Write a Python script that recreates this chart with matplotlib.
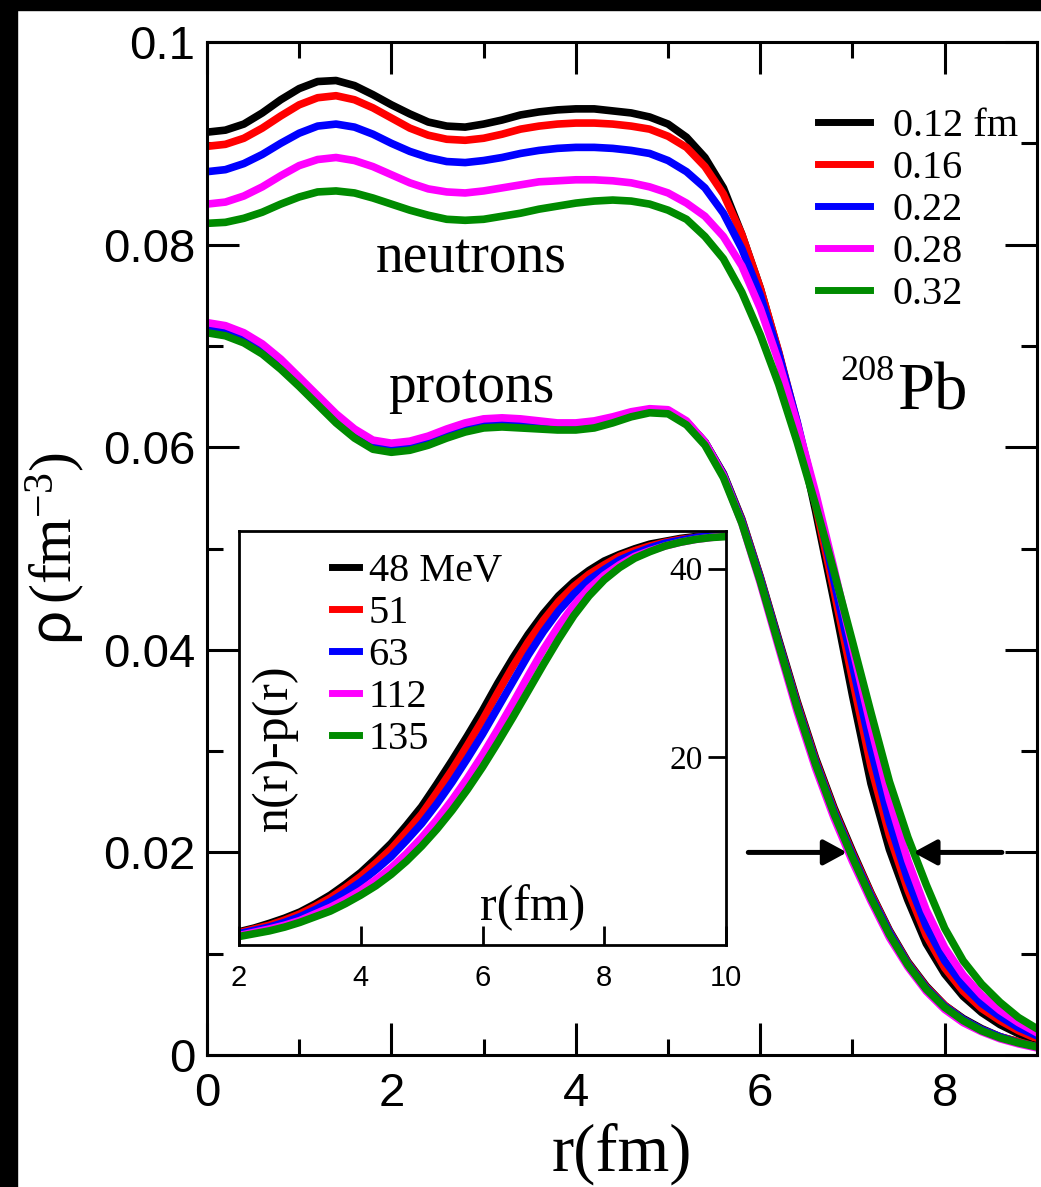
import matplotlib.pyplot as plt
from matplotlib.lines import Line2D
from matplotlib.patches import Rectangle

plt.rcParams['font.family'] = 'Liberation Sans'
plt.rcParams['mathtext.fontset'] = 'custom'
plt.rcParams['mathtext.rm'] = 'Liberation Serif'
plt.rcParams['mathtext.it'] = 'Liberation Serif:italic'
plt.rcParams['mathtext.sf'] = 'Liberation Sans'

# ---- data ----
r_main = [0.0, 0.2, 0.4, 0.6, 0.8, 1.0, 1.2, 1.4, 1.6, 1.8, 2.0, 2.2, 2.4, 2.6,
          2.8, 3.0, 3.2, 3.4, 3.6, 3.8, 4.0, 4.2, 4.4, 4.6, 4.8, 5.0, 5.2, 5.4,
          5.6, 5.8, 6.0, 6.2, 6.4, 6.6, 6.8, 7.0, 7.2, 7.4, 7.6, 7.8, 8.0, 8.2,
          8.4, 8.6, 8.8, 9.0]

# neutron densities (fm^-3)
n_black = [0.0911, 0.0913, 0.0919, 0.0930, 0.0943, 0.0954, 0.0961, 0.0962, 0.0957,
           0.0948, 0.0938, 0.0929, 0.0921, 0.0917, 0.0916, 0.0919, 0.0923, 0.0928,
           0.0931, 0.0933, 0.0934, 0.0934, 0.0932, 0.0930, 0.0926, 0.0919, 0.0906,
           0.0886, 0.0856, 0.0810, 0.0757, 0.0693, 0.0620, 0.0537, 0.0448, 0.0355,
           0.0268, 0.0203, 0.0153, 0.0110, 0.0080, 0.0058, 0.0042, 0.0030, 0.0021,
           0.0014]
n_red = [0.0897, 0.0899, 0.0905, 0.0915, 0.0927, 0.0938, 0.0945, 0.0947, 0.0943,
         0.0935, 0.0925, 0.0915, 0.0908, 0.0904, 0.0903, 0.0905, 0.0909, 0.0914,
         0.0917, 0.0919, 0.0920, 0.0920, 0.0919, 0.0917, 0.0914, 0.0907, 0.0896,
         0.0877, 0.0850, 0.0810, 0.0757, 0.0694, 0.0624, 0.0543, 0.0458, 0.0371,
         0.0285, 0.0217, 0.0163, 0.0118, 0.0086, 0.0063, 0.0046, 0.0034, 0.0024,
         0.0016]
n_blue = [0.0872, 0.0874, 0.0880, 0.0889, 0.0900, 0.0910, 0.0917, 0.0919, 0.0916,
          0.0909, 0.0900, 0.0892, 0.0886, 0.0882, 0.0881, 0.0883, 0.0886, 0.0890,
          0.0893, 0.0895, 0.0896, 0.0896, 0.0895, 0.0893, 0.0890, 0.0883, 0.0872,
          0.0856, 0.0831, 0.0796, 0.0750, 0.0692, 0.0625, 0.0550, 0.0468, 0.0385,
          0.0302, 0.0230, 0.0173, 0.0127, 0.0093, 0.0069, 0.0051, 0.0038, 0.0027,
          0.0019]
n_magenta = [0.0840, 0.0842, 0.0848, 0.0857, 0.0868, 0.0878, 0.0884, 0.0886, 0.0883,
             0.0877, 0.0869, 0.0861, 0.0855, 0.0852, 0.0851, 0.0853, 0.0856, 0.0859,
             0.0862, 0.0863, 0.0864, 0.0864, 0.0863, 0.0861, 0.0857, 0.0851, 0.0841,
             0.0828, 0.0808, 0.0779, 0.0737, 0.0684, 0.0623, 0.0555, 0.0480, 0.0402,
             0.0324, 0.0252, 0.0192, 0.0143, 0.0106, 0.0079, 0.0059, 0.0044, 0.0032,
             0.0022]
n_green = [0.0821, 0.0822, 0.0826, 0.0832, 0.0840, 0.0847, 0.0852, 0.0853, 0.0851,
           0.0846, 0.0840, 0.0834, 0.0829, 0.0825, 0.0824, 0.0825, 0.0828, 0.0831,
           0.0835, 0.0838, 0.0841, 0.0843, 0.0844, 0.0843, 0.0840, 0.0834, 0.0825,
           0.0808, 0.0786, 0.0753, 0.0711, 0.0662, 0.0605, 0.0543, 0.0477, 0.0408,
           0.0338, 0.0270, 0.0215, 0.0168, 0.0125, 0.0093, 0.0070, 0.0052, 0.0037,
           0.0026]

# proton densities (fm^-3)
p_black = [0.0718, 0.0715, 0.0708, 0.0697, 0.0682, 0.0665, 0.0647, 0.0629, 0.0614,
           0.0603, 0.0600, 0.0602, 0.0607, 0.0614, 0.0620, 0.0624, 0.0625, 0.0624,
           0.0622, 0.0621, 0.0621, 0.0623, 0.0628, 0.0633, 0.0637, 0.0636, 0.0625,
           0.0605, 0.0574, 0.0529, 0.0472, 0.0410, 0.0349, 0.0293, 0.0244, 0.0201,
           0.0160, 0.0123, 0.0092, 0.0068, 0.0049, 0.0036, 0.0026, 0.0018, 0.0013,
           0.0009]
p_red = [0.0718, 0.0715, 0.0708, 0.0697, 0.0682, 0.0665, 0.0647, 0.0629, 0.0614,
         0.0603, 0.0600, 0.0602, 0.0607, 0.0614, 0.0620, 0.0624, 0.0625, 0.0624,
         0.0622, 0.0621, 0.0621, 0.0623, 0.0628, 0.0633, 0.0637, 0.0636, 0.0625,
         0.0605, 0.0573, 0.0528, 0.0471, 0.0408, 0.0347, 0.0291, 0.0242, 0.0199,
         0.0159, 0.0122, 0.0091, 0.0067, 0.0049, 0.0035, 0.0025, 0.0018, 0.0013,
         0.0008]
p_blue = [0.0718, 0.0715, 0.0708, 0.0697, 0.0682, 0.0665, 0.0647, 0.0629, 0.0614,
          0.0603, 0.0600, 0.0602, 0.0607, 0.0614, 0.0620, 0.0624, 0.0625, 0.0624,
          0.0622, 0.0621, 0.0621, 0.0623, 0.0628, 0.0633, 0.0637, 0.0636, 0.0625,
          0.0605, 0.0573, 0.0527, 0.0470, 0.0407, 0.0345, 0.0289, 0.0240, 0.0197,
          0.0157, 0.0121, 0.0090, 0.0066, 0.0048, 0.0035, 0.0025, 0.0018, 0.0012,
          0.0008]
p_magenta = [0.0723, 0.0720, 0.0713, 0.0702, 0.0687, 0.0669, 0.0651, 0.0633, 0.0618,
             0.0607, 0.0604, 0.0606, 0.0611, 0.0618, 0.0624, 0.0628, 0.0629, 0.0628,
             0.0626, 0.0624, 0.0624, 0.0626, 0.0630, 0.0635, 0.0638, 0.0637, 0.0626,
             0.0605, 0.0572, 0.0525, 0.0466, 0.0402, 0.0339, 0.0283, 0.0234, 0.0191,
             0.0152, 0.0116, 0.0087, 0.0063, 0.0045, 0.0032, 0.0023, 0.0016, 0.0011,
             0.0007]
p_green = [0.0713, 0.0710, 0.0703, 0.0692, 0.0677, 0.0660, 0.0642, 0.0624, 0.0609,
           0.0598, 0.0595, 0.0597, 0.0602, 0.0609, 0.0615, 0.0619, 0.0620, 0.0619,
           0.0618, 0.0617, 0.0617, 0.0619, 0.0624, 0.0630, 0.0634, 0.0633, 0.0622,
           0.0602, 0.0570, 0.0525, 0.0468, 0.0405, 0.0343, 0.0287, 0.0238, 0.0195,
           0.0155, 0.0119, 0.0089, 0.0065, 0.0047, 0.0034, 0.0024, 0.0017, 0.0012,
           0.0008]

# inset: n(r)-p(r)
r_inset = [2.0, 2.25, 2.5, 2.75, 3.0, 3.25, 3.5, 3.75, 4.0, 4.25, 4.5, 4.75, 5.0,
           5.25, 5.5, 5.75, 6.0, 6.25, 6.5, 6.75, 7.0, 7.25, 7.5, 7.75, 8.0, 8.25,
           8.5, 8.75, 9.0, 9.25, 9.5, 9.75, 10.0]
d_black = [1.4, 1.8, 2.3, 2.85, 3.5, 4.35, 5.3, 6.45, 7.7, 9.2, 10.8, 12.7, 14.7,
           17.1, 19.6, 22.2, 24.9, 27.8, 30.5, 33.0, 35.2, 37.1, 38.6, 39.8, 40.8,
           41.5, 42.1, 42.6, 42.9, 43.2, 43.4, 43.5, 43.6]
d_red = [1.3, 1.7, 2.1, 2.65, 3.3, 4.1, 5.0, 6.1, 7.3, 8.7, 10.2, 12.0, 13.9,
         16.2, 18.6, 21.2, 23.9, 26.8, 29.6, 32.2, 34.5, 36.5, 38.1, 39.4, 40.4,
         41.3, 41.9, 42.4, 42.8, 43.1, 43.3, 43.5, 43.6]
d_blue = [1.2, 1.55, 1.9, 2.4, 3.0, 3.75, 4.6, 5.6, 6.7, 8.0, 9.4, 11.1, 12.9,
          15.0, 17.3, 19.8, 22.4, 25.2, 28.0, 30.8, 33.3, 35.5, 37.3, 38.8, 39.9,
          40.9, 41.6, 42.2, 42.7, 43.0, 43.3, 43.5, 43.6]
d_magenta = [1.0, 1.35, 1.7, 2.1, 2.6, 3.3, 4.0, 4.85, 5.8, 6.95, 8.2, 9.7, 11.4,
             13.3, 15.4, 17.7, 20.2, 22.9, 25.7, 28.6, 31.4, 33.9, 36.1, 37.9, 39.3,
             40.4, 41.3, 41.9, 42.4, 42.8, 43.1, 43.3, 43.5]
d_green = [0.9, 1.2, 1.5, 1.9, 2.4, 3.0, 3.6, 4.4, 5.3, 6.3, 7.5, 8.9, 10.5,
           12.3, 14.3, 16.5, 18.9, 21.5, 24.2, 27.0, 29.8, 32.5, 35.0, 37.1, 38.8,
           40.1, 41.1, 41.8, 42.4, 42.8, 43.1, 43.3, 43.4]

main_labels = ['0.12 fm', '0.16', '0.22', '0.28', '0.32']
inset_labels = ['48 MeV', '51', '63', '112', '135']
colors = ['black', 'red', 'blue', 'magenta', '#008b00']

neutrons = [n_black, n_red, n_blue, n_magenta, n_green]
protons = [p_black, p_red, p_blue, p_magenta, p_green]
diffs = [d_black, d_red, d_blue, d_magenta, d_green]

serif = 'Liberation Serif'

# ---- figure ----
fig = plt.figure(figsize=(10.41, 11.87), dpi=100)
fig.patch.set_facecolor('white')
fig.add_artist(Rectangle((0, 1 - 10 / 1187), 1, 10 / 1187, transform=fig.transFigure,
                         color='black', zorder=0))
fig.add_artist(Rectangle((0, 0), 17 / 1041, 1, transform=fig.transFigure,
                         color='black', zorder=0))

ax = fig.add_axes([0.1988, 0.1112, 0.7973, 0.8534])
for c, n in zip(colors, neutrons):
    ax.plot(r_main, n, color=c, lw=5.5)
for c, p in zip(colors, protons):
    ax.plot(r_main, p, color=c, lw=5.5)

ax.set_xlim(0, 9)
ax.set_ylim(0, 0.1)
ax.set_xticks([0, 2, 4, 6, 8])
ax.set_xticks([1, 3, 5, 7], minor=True)
ax.set_yticks([0, 0.02, 0.04, 0.06, 0.08, 0.1])
ax.set_yticklabels(['0', '0.02', '0.04', '0.06', '0.08', '0.1'])
ax.set_yticks([0.01, 0.03, 0.05, 0.07, 0.09], minor=True)
ax.tick_params(which='both', direction='in', top=True, right=True, width=2.2,
               labelsize=34)
ax.tick_params(which='major', length=23)
ax.tick_params(which='minor', length=11.5)
ax.tick_params(axis='x', pad=12)
ax.tick_params(axis='y', pad=8.5)
for s in ax.spines.values():
    s.set_linewidth(2.2)

ax.set_xlabel('r(fm)', family=serif, fontsize=48)
ax.xaxis.set_label_coords(0.5, -0.067)
ax.set_ylabel(r'$\mathsf{\rho}\,\mathrm{(fm^{-3})}$', fontsize=43)
ax.yaxis.set_label_coords(-0.145, 0.5)

ax.text(2.87, 0.0772, 'neutrons', family=serif, fontsize=40, ha='center',
        va='baseline')
ax.text(2.87, 0.0645, 'protons', family=serif, fontsize=40, ha='center',
        va='baseline')
ax.text(7.46, 0.0666, '208', family=serif, fontsize=26, ha='right', va='baseline')
ax.text(7.48, 0.0637, 'Pb', family=serif, fontsize=48, ha='left', va='baseline')

arrow = dict(arrowstyle='-|>,head_length=0.7,head_width=0.38', lw=3.6,
             color='black', shrinkA=0, shrinkB=0, mutation_scale=20)
ax.annotate('', xy=(6.94, 0.02), xytext=(5.87, 0.02), arrowprops=arrow)
ax.annotate('', xy=(7.66, 0.02), xytext=(8.62, 0.02), arrowprops=arrow)

handles = [Line2D([], [], color=c, lw=5) for c in colors]
ax.legend(handles, main_labels, loc='upper left', bbox_to_anchor=(0.7858, 0.9094),
          bbox_transform=fig.transFigure, frameon=False, borderpad=0,
          borderaxespad=0, handlelength=1.3, handletextpad=0.55,
          labelspacing=0.12, prop={'family': serif, 'size': 29})

# ---- inset ----
ins = fig.add_axes([0.2296, 0.2039, 0.4678, 0.3488])
ins.set_zorder(5)
for c, d in zip(colors, diffs):
    ins.plot(r_inset, d, color=c, lw=5.5)
ins.set_xlim(2, 10)
ins.set_ylim(0, 44)
ins.set_xticks([2, 4, 6, 8, 10])
ins.set_yticks([20, 40])
ins.yaxis.tick_right()
ins.tick_params(axis='x', direction='in', length=14, width=2, labelsize=21, pad=14)
ins.tick_params(axis='y', direction='in', length=13, width=2, labelsize=24,
                pad=-17, left=False, right=True, labelleft=False, labelright=True)
for lab in ins.get_yticklabels():
    lab.set_fontfamily(serif)
    lab.set_ha('right')
for s in ins.spines.values():
    s.set_linewidth(2)

ins.text(0.074, 0.476, 'n(r)-p(r)', family=serif, fontsize=36, rotation=90,
         ha='center', va='center', transform=ins.transAxes)
ins.text(0.604, 0.06, 'r(fm)', family=serif, fontsize=36, ha='center',
         va='baseline', transform=ins.transAxes)

ins.legend(handles, inset_labels, loc='upper left', bbox_to_anchor=(0.3189, 0.5341),
           bbox_transform=fig.transFigure, frameon=False, borderpad=0,
           borderaxespad=0, handlelength=0.67, handletextpad=0.24,
           labelspacing=0.12, prop={'family': serif, 'size': 29})

fig.savefig('out.png', dpi=100)
